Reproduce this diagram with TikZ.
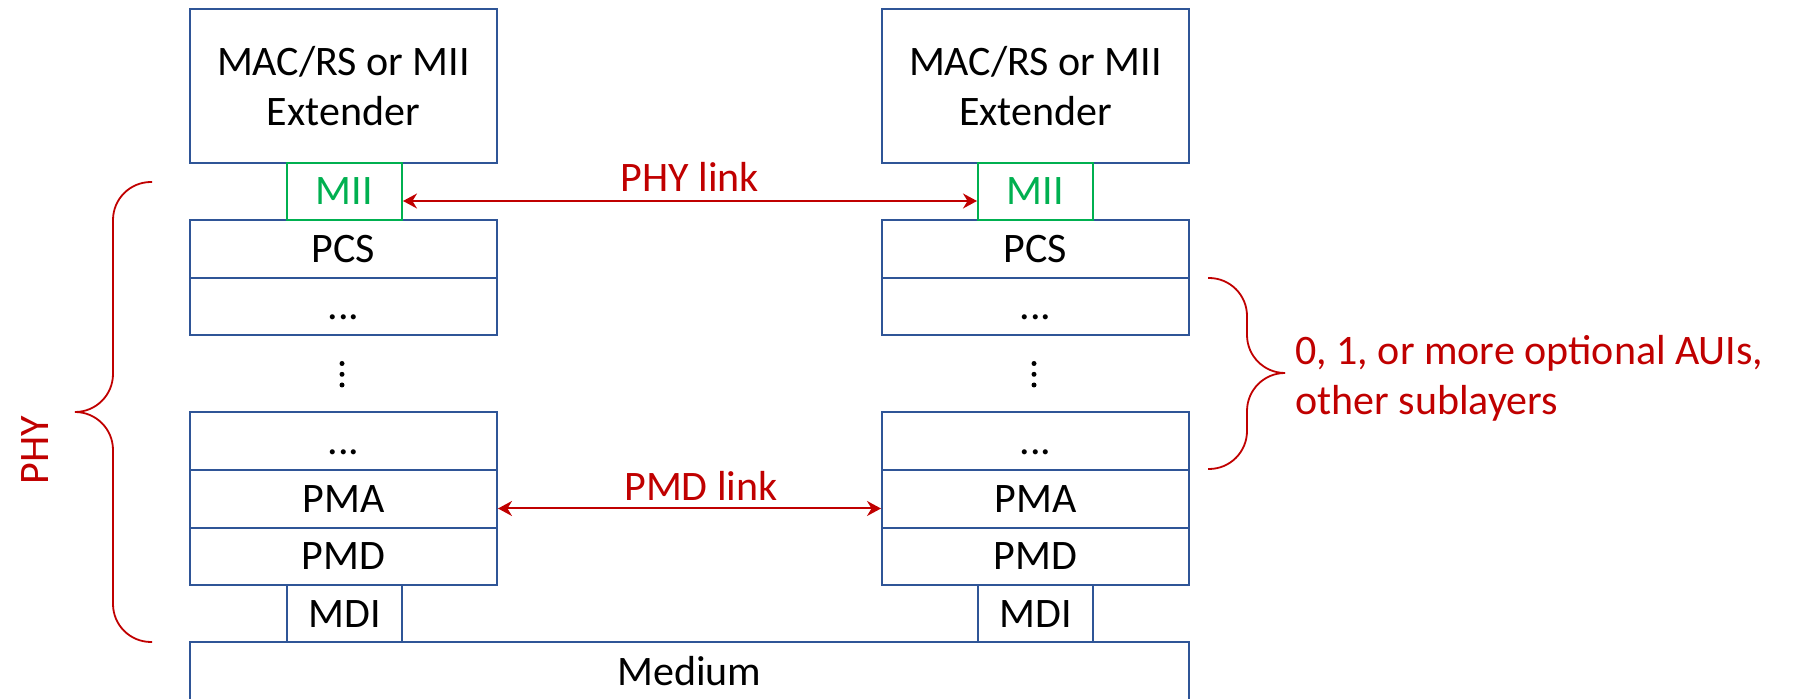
\documentclass[tikz,border=0pt]{standalone}
\usepackage{fontspec}
\setmainfont{Carlito}
\usetikzlibrary{arrows.meta}

\definecolor{layerblue}{RGB}{47,85,151}
\definecolor{miigreen}{RGB}{0,176,80}
\definecolor{linkred}{RGB}{192,0,0}

\tikzset{
  box/.style={draw=layerblue, line width=1pt, inner sep=0pt, minimum width=153.5pt,
    font=\fontsize{21}{25}\selectfont},
  layer/.style={box, minimum height=28.75pt, text height=13.5pt, text depth=0pt},
  mac/.style={box, minimum height=77pt, align=center},
  port/.style={layer, minimum width=57.5pt, minimum height=28.5pt},
  mii/.style={port, draw=miigreen, text=miigreen},
  link/.style={linkred, line width=1pt, {Stealth[length=7pt,width=7.5pt]}-{Stealth[length=7pt,width=7.5pt]}},
  note/.style={text=linkred, inner sep=0pt, font=\fontsize{21}{25}\selectfont},
  curly/.style={linkred, line width=0.9pt, rounded corners=19pt},
  vdot/.style={fill=black, draw=none},
}

\begin{document}
\begin{tikzpicture}[x=0.5pt,y=-0.5pt]
\useasboundingbox (0,0) rectangle (1799,699);

% left stack
\node[mac] (macL) at (343.5,86) {MAC/RS or MII\\Extender};
\node[layer] (pcsL) at (343.5,249) {PCS};
\node[layer] (dotsupL) at (343.5,306.5) {...};
\node[layer] (dotsdnL) at (343.5,441) {...};
\node[layer] (pmaL) at (343.5,499) {PMA};
\node[layer] (pmdL) at (343.5,556.5) {PMD};
\node[port] (mdiL) at (344.5,613.5) {MDI};
\node[mii] (miiL) at (344.5,191.5) {MII};
\foreach \y in {363.5,374.3,385} \fill[vdot] (342,\y) circle (2.5);

% right stack
\node[mac] (macR) at (1035.5,86) {MAC/RS or MII\\Extender};
\node[layer] (pcsR) at (1035.5,249) {PCS};
\node[layer] (dotsupR) at (1035.5,306.5) {...};
\node[layer] (dotsdnR) at (1035.5,441) {...};
\node[layer] (pmaR) at (1035.5,499) {PMA};
\node[layer] (pmdR) at (1035.5,556.5) {PMD};
\node[port] (mdiR) at (1035.5,613.5) {MDI};
\node[mii] (miiR) at (1035.5,191.5) {MII};
\foreach \y in {363.5,374.3,385} \fill[vdot] (1034,\y) circle (2.5);

% medium
\node[layer, minimum width=499.5pt, minimum height=30pt] (medium) at (689.5,672) {Medium};

% links
\draw[link] ([yshift=-4.75pt]miiL.east) -- ([yshift=-4.75pt]miiR.west);
\node[note, anchor=base] (phylink) at (690,192) {PHY link};
\draw[link] ([yshift=-4.75pt]pmaL.east) -- ([yshift=-4.75pt]pmaR.west);
\node[note, anchor=base] (pmdlink) at (701,501) {PMD link};

% braces
\draw[curly] (152,182) -| (113,412) -- (75,412);
\draw[curly] (75,412) -| (113,642) -- (152,642);
\node[note, rotate=90] (phy) at (35,450) {PHY};

\draw[curly] (1208,278) -| (1247,373) -- (1285,373);
\draw[curly] (1285,373) -| (1247,469) -- (1208,469);
\node[note, align=left, anchor=west] (auis) at (1295,378) {0, 1, or more optional AUIs,\\other sublayers};
\end{tikzpicture}
\end{document}
